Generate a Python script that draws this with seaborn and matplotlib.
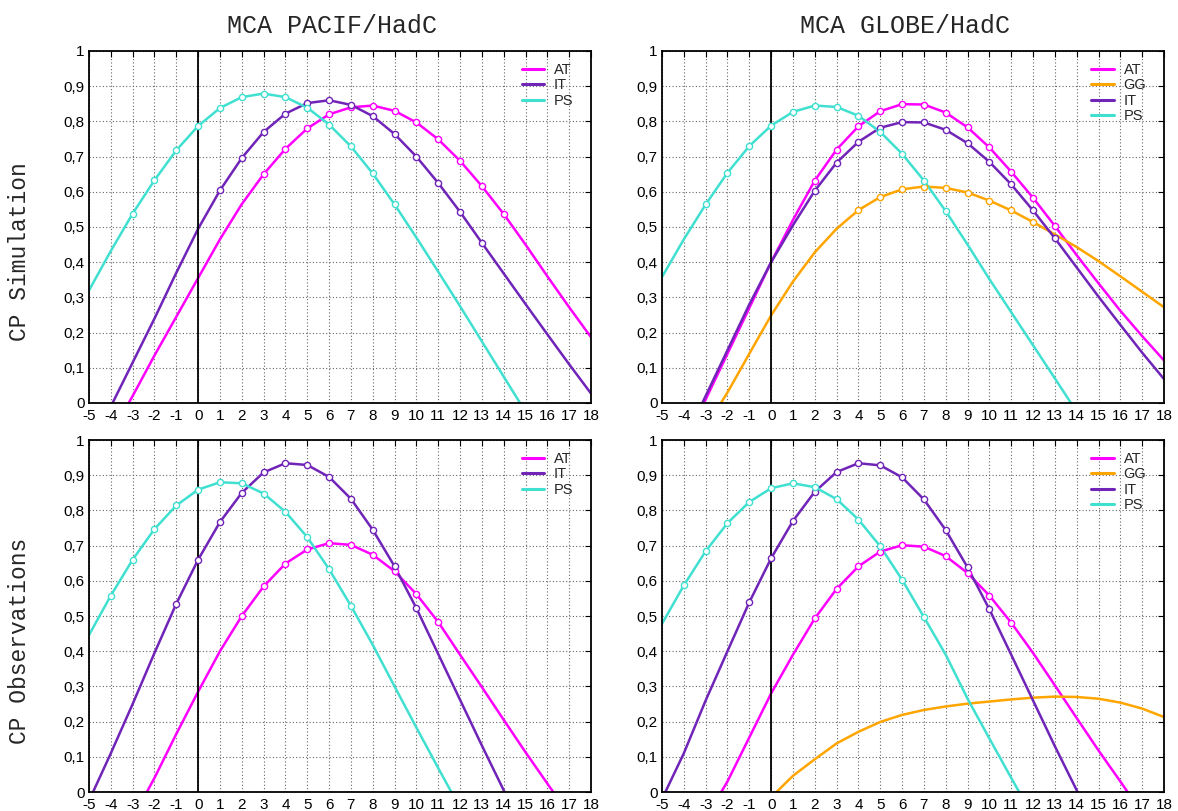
import numpy as np
import pandas as pd
import matplotlib
matplotlib.use("Agg")
import matplotlib.pyplot as plt
from matplotlib.ticker import FuncFormatter, MultipleLocator
import seaborn as sns

# lags (months)
lags = list(range(-5, 19))

# CP Simulation, MCA PACIF/HadC
sim_pacif_AT = [-0.20, -0.09, 0.02, 0.135, 0.245, 0.355, 0.465, 0.565, 0.65, 0.722, 0.78, 0.82,
                0.84, 0.845, 0.83, 0.797, 0.749, 0.688, 0.616, 0.537, 0.45, 0.36, 0.272, 0.187]
sim_pacif_IT = [-0.11, -0.01, 0.115, 0.24, 0.37, 0.495, 0.604, 0.696, 0.77, 0.822, 0.852, 0.86,
                0.847, 0.815, 0.764, 0.70, 0.625, 0.543, 0.455, 0.368, 0.281, 0.195, 0.11, 0.027]
sim_pacif_PS = [0.32, 0.432, 0.538, 0.633, 0.718, 0.787, 0.838, 0.869, 0.879, 0.869, 0.839, 0.791,
                0.729, 0.652, 0.564, 0.47, 0.373, 0.275, 0.175, 0.075, -0.025, -0.12, -0.21, -0.30]

# CP Simulation, MCA GLOBE/HadC
sim_globe_AT = [-0.25, -0.12, 0.01, 0.14, 0.27, 0.40, 0.52, 0.632, 0.72, 0.786, 0.829, 0.849,
                0.848, 0.825, 0.783, 0.726, 0.657, 0.583, 0.503, 0.42, 0.34, 0.262, 0.19, 0.121]
sim_globe_GG = [-0.30, -0.18, -0.07, 0.03, 0.14, 0.249, 0.345, 0.428, 0.495, 0.548, 0.585, 0.607,
                0.615, 0.611, 0.598, 0.575, 0.547, 0.514, 0.479, 0.443, 0.403, 0.36, 0.316, 0.272]
sim_globe_IT = [-0.23, -0.11, 0.02, 0.15, 0.28, 0.40, 0.505, 0.603, 0.683, 0.742, 0.782, 0.798,
                0.797, 0.776, 0.738, 0.685, 0.621, 0.547, 0.468, 0.385, 0.302, 0.222, 0.143, 0.068]
sim_globe_PS = [0.358, 0.465, 0.564, 0.654, 0.73, 0.788, 0.827, 0.845, 0.841, 0.816, 0.77, 0.708,
                0.632, 0.545, 0.45, 0.352, 0.258, 0.164, 0.07, -0.025, -0.12, -0.21, -0.30, -0.38]

# CP Observations, MCA PACIF/HadC
obs_pacif_AT = [-0.30, -0.19, -0.075, 0.04, 0.165, 0.285, 0.40, 0.50, 0.584, 0.649, 0.689, 0.707,
                0.702, 0.674, 0.627, 0.562, 0.483, 0.39, 0.298, 0.205, 0.113, 0.024, -0.065, -0.15]
obs_pacif_IT = [-0.025, 0.11, 0.25, 0.395, 0.535, 0.66, 0.767, 0.85, 0.908, 0.934, 0.929, 0.895,
                0.833, 0.745, 0.641, 0.522, 0.392, 0.262, 0.132, 0.005, -0.12, -0.24, -0.35, -0.45]
obs_pacif_PS = [0.446, 0.558, 0.66, 0.747, 0.814, 0.859, 0.88, 0.877, 0.848, 0.796, 0.724, 0.633,
                0.529, 0.418, 0.30, 0.183, 0.068, -0.045, -0.15, -0.25, -0.34, -0.42, -0.49, -0.55]

# CP Observations, MCA GLOBE/HadC
obs_globe_AT = [-0.30, -0.19, -0.075, 0.03, 0.155, 0.28, 0.39, 0.493, 0.577, 0.641, 0.683, 0.701,
                0.697, 0.67, 0.622, 0.558, 0.481, 0.395, 0.303, 0.21, 0.118, 0.03, -0.06, -0.15]
obs_globe_GG = [-0.45, -0.34, -0.24, -0.15, -0.08, -0.015, 0.046, 0.093, 0.138, 0.171, 0.199, 0.219,
                0.233, 0.243, 0.251, 0.257, 0.263, 0.268, 0.271, 0.27, 0.265, 0.254, 0.237, 0.213]
obs_globe_IT = [-0.02, 0.11, 0.26, 0.40, 0.539, 0.664, 0.77, 0.853, 0.909, 0.934, 0.928, 0.894,
                0.831, 0.744, 0.638, 0.519, 0.39, 0.26, 0.13, 0.005, -0.12, -0.24, -0.35, -0.45]
obs_globe_PS = [0.478, 0.587, 0.684, 0.764, 0.824, 0.863, 0.877, 0.866, 0.832, 0.774, 0.698, 0.603,
                0.497, 0.39, 0.265, 0.152, 0.04, -0.07, -0.18, -0.28, -0.37, -0.45, -0.52, -0.58]

# lag ranges with markers (significant points), per series; GG obs has none
sim_pacif_sig = {"AT": (3, 14), "IT": (1, 13), "PS": (-3, 9)}
sim_globe_sig = {"AT": (2, 13), "GG": (4, 12), "IT": (2, 13), "PS": (-3, 8)}
obs_pacif_sig = {"AT": (2, 11), "IT": (-1, 10), "PS": (-4, 7)}
obs_globe_sig = {"AT": (2, 11), "IT": (-1, 10), "PS": (-4, 7)}

titles = ["MCA PACIF/HadC", "MCA GLOBE/HadC"]
row_labels = ["CP Simulation", "CP Observations"]

colors = {"AT": "#ff00ff", "GG": "#ffa500", "IT": "#7024b8", "PS": "#40e0d0"}

panels = [
    ({"AT": sim_pacif_AT, "IT": sim_pacif_IT, "PS": sim_pacif_PS}, sim_pacif_sig),
    ({"AT": sim_globe_AT, "GG": sim_globe_GG, "IT": sim_globe_IT, "PS": sim_globe_PS}, sim_globe_sig),
    ({"AT": obs_pacif_AT, "IT": obs_pacif_IT, "PS": obs_pacif_PS}, obs_pacif_sig),
    ({"AT": obs_globe_AT, "GG": obs_globe_GG, "IT": obs_globe_IT, "PS": obs_globe_PS}, obs_globe_sig),
]

sns.set_style("white")
plt.rcParams["font.family"] = ["Liberation Sans", "DejaVu Sans"]
plt.rcParams["axes.unicode_minus"] = False

fig = plt.figure(figsize=(11.78, 8.11), dpi=100)
lefts = [89 / 1178, 662 / 1178]
bottoms = [1 - 403 / 811, 1 - 792 / 811]
w = 502 / 1178
h = 352 / 811

comma = FuncFormatter(lambda v, p: "0" if abs(v) < 1e-9 else ("1" if abs(v - 1) < 1e-9 else ("%.1f" % v).replace(".", ",")))

for i, (series, sig) in enumerate(panels):
    r, c = divmod(i, 2)
    ax = fig.add_axes([lefts[c], bottoms[r], w, h])

    rows = []
    for name, vals in series.items():
        for lag, v in zip(lags, vals):
            rows.append({"lag": lag, "cp": v, "index": name})
    df = pd.DataFrame(rows)
    order = list(series.keys())

    sns.lineplot(data=df, x="lag", y="cp", hue="index", hue_order=order,
                 palette=colors, linewidth=1.8, ax=ax)

    for name in order:
        if name not in sig:
            continue
        lo, hi = sig[name]
        sub = df[(df["index"] == name) & (df["lag"] >= lo) & (df["lag"] <= hi)]
        sns.scatterplot(data=sub, x="lag", y="cp", color="white", edgecolor=colors[name],
                        linewidth=1.0, s=20, zorder=5, legend=False, ax=ax)

    ax.axvline(0, color="black", lw=1.3, zorder=4)
    ax.set_xlim(-5, 18)
    ax.set_ylim(0, 1)
    ax.xaxis.set_major_locator(MultipleLocator(1))
    ax.yaxis.set_major_locator(MultipleLocator(0.1))
    ax.yaxis.set_major_formatter(comma)
    ax.grid(True, color="#666666", linestyle=(0, (1, 2)), linewidth=0.8)
    ax.tick_params(axis="both", direction="in", length=4, width=0.8, top=True, right=True,
                   labelsize=11, colors="black")
    ax.tick_params(axis="x", pad=4)
    ax.tick_params(axis="y", pad=3)
    for sp in ax.spines.values():
        sp.set_color("black")
        sp.set_linewidth(1.3)
    ax.set_xlabel("")
    ax.set_ylabel("")

    leg = ax.legend(loc="upper right", frameon=False, fontsize=10.5, handlelength=1.55,
                    handletextpad=0.65, labelspacing=0.1, borderaxespad=0.3,
                    bbox_to_anchor=(0.985, 0.995))
    for line in leg.get_lines():
        line.set_linewidth(2.2)

    if r == 0:
        ax.set_title(titles[c], fontsize=18, family="Liberation Mono", pad=13, x=0.484)
    if c == 0:
        ax.set_ylabel(row_labels[r], fontsize=16.5, family="Liberation Mono")
        ax.yaxis.set_label_coords(-0.116, 0.43)

fig.savefig("out.png", dpi=100)
